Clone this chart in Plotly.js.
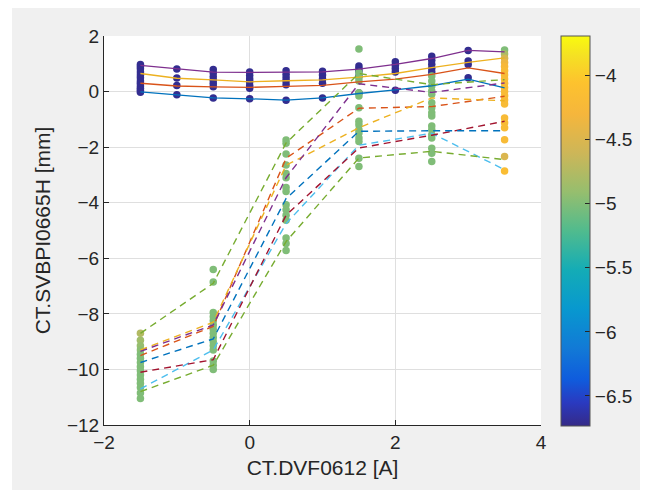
<!DOCTYPE html>
<html>
<head>
<meta charset="utf-8">
<script src="https://cdn.plot.ly/plotly-3.0.1.min.js"></script>
<style>
html,body{margin:0;padding:0;background:#ffffff;}
#chart{position:absolute;left:12px;top:8px;width:628px;height:482px;}
</style>
</head>
<body>
<div id="chart"></div>
<script>
// ---- data ----
const solidX = [-1.5,-1,-0.5,0,0.5,1,1.5,2,2.5,3,3.5];
const solidPurple = [0.94,0.81,0.70,0.69,0.70,0.71,0.81,0.98,1.19,1.48,1.43];
const solidYellow = [0.65,0.48,0.42,0.35,0.39,0.42,0.52,0.65,0.86,1.05,1.21];
const solidOrange = [0.30,0.20,0.17,0.15,0.19,0.22,0.35,0.45,0.62,0.85,0.65];
const solidBlue   = [-0.01,-0.12,-0.23,-0.26,-0.31,-0.23,-0.07,0.06,0.21,0.45,0.13];

const dashX = [-1.5,-0.5,0.5,1.5,2.5,3.5];
const dashGreenTop  = [-8.7,-6.9,-1.85,0.65,0.25,0.43];
const dashPurple    = [-9.35,-8.4,-3.1,0.28,-0.03,0.31];
const dashYellow    = [-9.3,-8.3,-2.65,-1.3,-0.23,-0.33];
const dashOrange    = [-9.5,-8.45,-2.4,-0.6,-0.54,-0.17];
const dashBlue      = [-9.75,-8.9,-3.85,-1.43,-1.41,-1.41];
const dashDarkRed   = [-10.1,-9.65,-4.45,-2.03,-1.57,-1.07];
const dashLightBlue = [-10.7,-9.3,-4.75,-1.93,-1.5,-2.81];
const dashGreenBot  = [-10.8,-9.85,-5.4,-2.39,-2.15,-2.45];

// measured points: x, y, colour value
const ptX = [
  -1.5,-1.5,-1.5,-1.5,-1.5,-1.5,-1.5,-1.5,-1.5,-1.5,-1.5,-1.5,
  -1,-1,-1,-1,
  -0.5,-0.5,-0.5,-0.5,-0.5,-0.5,-0.5,
  0,0,0,0,0,0,0,
  0.5,0.5,0.5,0.5,0.5,0.5,
  1,1,1,1,1,
  1.5,1.5,1.5,1.5,1.5,
  2,2,2,2,2,
  2.5,2.5,2.5,2.5,2.5,
  3,3,3,3,
  -1.5,-1.5,-1.5,-1.5,-1.5,-1.5,-1.5,-1.5,-1.5,-1.5,-1.5,-1.5,-1.5,-1.5,-1.5,
  -0.5,-0.5,-0.5,-0.5,-0.5,-0.5,-0.5,-0.5,-0.5,-0.5,-0.5,-0.5,-0.5,-0.5,-0.5,
  0.5,0.5,0.5,0.5,0.5,0.5,0.5,0.5,0.5,0.5,0.5,0.5,0.5,0.5,0.5,
  1.5,1.5,1.5,1.5,1.5,1.5,1.5,1.5,1.5,1.5,1.5,1.5,1.5,1.5,1.5,
  2.5,2.5,2.5,2.5,2.5,2.5,2.5,2.5,2.5,2.5,2.5,2.5,2.5,2.5,2.5,2.5,
  3.5,3.5,3.5,3.5,3.5,3.5,3.5,3.5,3.5,3.5,3.5,3.5,3.5,3.5,3.5,3.5,3.5,3.5,3.5,3.5
];
const ptY = [
  0.97,0.9,0.82,0.7,0.6,0.5,0.38,0.3,0.2,0.12,0.05,-0.02,
  0.81,0.49,0.22,-0.11,
  0.79,0.67,0.53,0.41,0.29,0.17,-0.23,
  0.7,0.58,0.45,0.35,0.22,0.12,-0.26,
  0.75,0.62,0.5,0.38,0.25,-0.31,
  0.73,0.6,0.45,0.3,-0.23,
  0.92,0.82,0.72,0.55,-0.05,
  1.07,0.95,0.83,0.7,0.05,
  1.27,1.13,0.98,0.84,0.7,
  1.48,1.1,0.97,0.5,
  -8.7,-8.95,-9.15,-9.3,-9.45,-9.6,-9.75,-9.9,-10.05,-10.2,-10.35,-10.5,-10.65,-10.85,-11.05,
  -6.4,-6.85,-7.95,-8.1,-8.25,-8.4,-8.55,-8.7,-8.85,-9.0,-9.15,-9.3,-9.7,-9.85,-10.0,
  -1.74,-1.86,-2.25,-2.64,-2.95,-3.1,-3.45,-3.6,-4.07,-4.25,-4.45,-4.63,-5.27,-5.47,-5.72,
  1.53,0.69,0.51,0.38,-0.04,-0.16,-0.58,-1.07,-1.19,-1.37,-1.49,-1.67,-1.8,-2.4,-2.7,
  0.56,0.38,0.2,0.02,-0.1,-0.4,-0.58,-0.76,-0.88,-1.24,-1.37,-1.55,-1.67,-2.04,-2.22,-2.52,
  1.5,1.35,1.2,1.05,0.9,0.75,0.6,0.45,0.3,0.15,0.0,-0.15,-0.3,-0.45,-0.95,-1.12,-1.3,-1.73,-2.34,-2.86
];
const ptC = [
  -6.7,-6.7,-6.7,-6.7,-6.7,-6.7,-6.7,-6.7,-6.7,-6.7,-6.7,-6.7,
  -6.7,-6.7,-6.7,-6.7,
  -6.7,-6.7,-6.7,-6.7,-6.7,-6.7,-6.7,
  -6.7,-6.7,-6.7,-6.7,-6.7,-6.7,-6.7,
  -6.7,-6.7,-6.7,-6.7,-6.7,-6.7,
  -6.7,-6.7,-6.7,-6.7,-6.7,
  -6.7,-6.7,-6.7,-6.7,-6.7,
  -6.7,-6.7,-6.7,-6.7,-6.7,
  -6.7,-6.7,-6.7,-6.7,-6.7,
  -6.7,-6.7,-6.7,-6.7,
  -4.75,-4.85,-4.9,-4.95,-5.0,-5.0,-5.0,-5.0,-5.0,-5.0,-5.0,-5.0,-5.0,-5.0,-5.0,
  -5.0,-5.0,-5.0,-5.0,-5.0,-5.0,-5.0,-5.0,-5.0,-5.0,-5.0,-5.0,-5.0,-5.0,-5.0,
  -5.0,-5.0,-5.0,-5.0,-5.0,-5.0,-5.0,-5.0,-5.0,-5.0,-5.0,-5.0,-5.0,-5.0,-5.0,
  -5.0,-5.0,-5.0,-5.0,-5.0,-5.0,-5.0,-5.0,-5.0,-5.0,-5.0,-5.0,-5.0,-5.0,-5.0,
  -5.0,-5.0,-5.0,-5.0,-5.0,-5.0,-5.0,-5.0,-5.0,-5.0,-5.0,-5.0,-5.0,-5.0,-5.0,-5.0,
  -5.0,-4.8,-4.55,-4.35,-4.25,-4.2,-4.2,-4.2,-4.2,-4.2,-4.2,-4.2,-4.2,-4.2,-4.2,-4.2,-4.2,-4.2,-4.5,-4.15
];

const colorTicks = [-6.5,-6,-5.5,-5,-4.5,-4];
const cMin = -6.73, cMax = -3.69;

const parula = [
  [0.0,'rgb(53,42,135)'],[0.06,'rgb(42,58,192)'],[0.12,'rgb(15,92,221)'],
  [0.2,'rgb(18,122,214)'],[0.3,'rgb(8,152,207)'],[0.4,'rgb(20,172,182)'],
  [0.5,'rgb(80,187,142)'],[0.6,'rgb(150,190,110)'],[0.7,'rgb(205,182,88)'],
  [0.8,'rgb(245,182,60)'],[0.88,'rgb(253,194,46)'],[0.95,'rgb(245,225,35)'],[1.0,'rgb(249,251,14)']
];

const C = {blue:'#0072BD',orange:'#D95319',yellow:'#EDB120',purple:'#7E2F8E',
           green:'#77AC30',lightblue:'#4DBEEE',darkred:'#A2142F'};

const traces = [];
traces.push({
  x: ptX, y: ptY, mode:'markers', type:'scatter', showlegend:false, hoverinfo:'skip',
  marker:{size:7.5, color:ptC, colorscale:parula, cmin:cMin, cmax:cMax, showscale:true,
    line:{width:0},
    colorbar:{x:1.046, xanchor:'left', xpad:0, ypad:0, y:0.5, yanchor:'middle', len:1.003, lenmode:'fraction',
      thickness:29, thicknessmode:'pixels', outlinewidth:1, outlinecolor:'#555',
      tickvals:colorTicks, ticks:'inside', ticklen:5, tickcolor:'#262626',
      tickfont:{family:'Liberation Sans, Arial, sans-serif', size:19, color:'#262626'}}}
});
function solid(y,c){traces.push({x:solidX,y:y,mode:'lines',type:'scatter',showlegend:false,hoverinfo:'skip',line:{color:c,width:1.3}});}
function dashed(y,c){traces.push({x:dashX,y:y,mode:'lines',type:'scatter',showlegend:false,hoverinfo:'skip',line:{color:c,width:1.4,dash:'7px,5px'}});}
solid(solidBlue,C.blue); solid(solidOrange,C.orange); solid(solidYellow,C.yellow); solid(solidPurple,C.purple);
dashed(dashGreenTop,C.green); dashed(dashLightBlue,C.lightblue); dashed(dashDarkRed,C.darkred);
dashed(dashBlue,C.blue); dashed(dashOrange,C.orange); dashed(dashYellow,C.yellow);
dashed(dashPurple,C.purple); dashed(dashGreenBot,C.green);

const fontFam = 'Liberation Sans, Arial, sans-serif';
const layout = {
  width:628, height:482,
  paper_bgcolor:'#f0f0f0', plot_bgcolor:'#ffffff',
  margin:{l:92, r:99, t:28, b:65, autoexpand:false},
  showlegend:false,
  xaxis:{range:[-2,4], tickvals:[-2,0,2,4], showgrid:true, gridcolor:'#dfdfdf', gridwidth:1,
    zeroline:false, showline:true, linecolor:'#262626', linewidth:1, mirror:false,
    ticks:'inside', ticklen:5, tickcolor:'#262626',
    tickfont:{family:fontFam, size:19, color:'#262626'},
    title:{text:'CT.DVF0612 [A]', font:{family:fontFam, size:21, color:'#262626'}, standoff:8}},
  yaxis:{range:[-12,2], tickvals:[-12,-10,-8,-6,-4,-2,0,2], showgrid:true, gridcolor:'#dfdfdf', gridwidth:1,
    zeroline:false, showline:true, linecolor:'#262626', linewidth:1, mirror:false,
    ticks:'inside', ticklen:5, tickcolor:'#262626',
    tickfont:{family:fontFam, size:19, color:'#262626'},
    title:{text:'CT.SVBPI0665H [mm]', font:{family:fontFam, size:21, color:'#262626'}, standoff:10}}
};
Plotly.newPlot('chart', traces, layout, {displayModeBar:false, staticPlot:true});
</script>
</body>
</html>
